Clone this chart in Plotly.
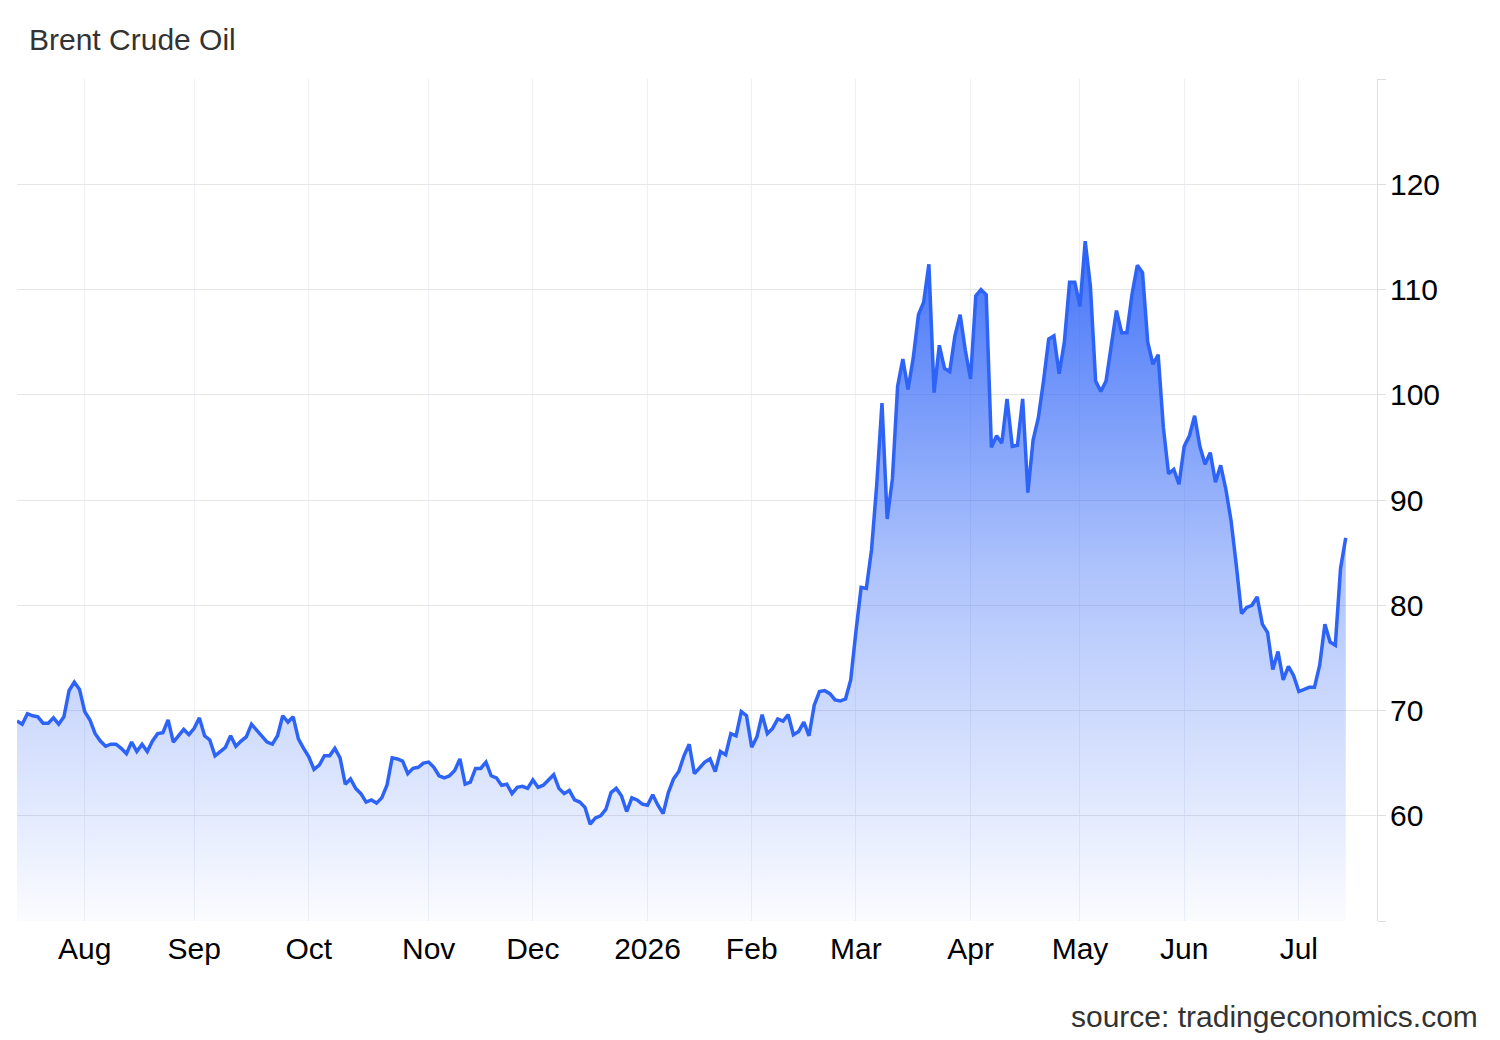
import pandas as pd
import plotly.graph_objects as go

title_text = "Brent Crude Oil"
source_text = "source: tradingeconomics.com"
start_date = "2025-07-15"
holidays = ["2025-12-25", "2026-01-01", "2026-01-19", "2026-04-03", "2026-05-25"]

prices = [
    69.0, 68.7, 69.7, 69.5, 69.4, 68.8, 68.8, 69.3, 68.7, 69.4,
    71.9, 72.7, 72.0, 69.9, 69.1, 67.8, 67.1, 66.6, 66.8, 66.8,
    66.4, 65.9, 67.0, 66.1, 66.8, 66.1, 67.1, 67.8, 67.9, 69.1,
    67.0, 67.6, 68.2, 67.7, 68.3, 69.3, 67.6, 67.2, 65.7, 66.1,
    66.5, 67.6, 66.6, 67.1, 67.5, 68.7,
    68.1, 67.6, 67.0, 66.8, 67.6, 69.5, 68.9, 69.4, 67.3, 66.4,
    65.6, 64.4, 64.8, 65.7, 65.7, 66.4, 65.5, 63.0, 63.5, 62.6,
    62.1, 61.3, 61.5, 61.2, 61.7, 62.9, 65.5, 65.4, 65.2, 64.0,
    64.5, 64.6, 65.0, 65.1, 64.6, 63.8, 63.6, 63.8, 64.3, 65.4,
    63.0, 63.2, 64.5, 64.5,
    65.1, 63.8, 63.6, 62.9, 63.0, 62.1, 62.7, 62.8, 62.6, 63.4,
    62.7, 62.9, 63.4, 63.9, 62.6, 62.1, 62.4, 61.5, 61.3, 60.8,
    59.2, 59.8, 60.0, 60.6, 62.2, 62.6, 61.9, 60.4, 61.7, 61.5,
    61.1, 61.0, 62.0, 61.0, 60.2, 62.2, 63.5, 64.2, 65.7, 66.8,
    64.0, 64.5, 65.1, 65.4,
    64.2, 66.1, 65.8, 67.8, 67.6, 69.9, 69.5, 66.5, 67.5, 69.6,
    67.8, 68.3, 69.2, 69.0, 69.6, 67.7, 68.0, 68.9, 67.6, 70.5,
    71.8, 71.9, 71.6, 71.0, 70.9, 71.1, 72.9, 77.5, 81.7, 81.6,
    85.3, 91.5, 99.2, 88.2, 92.0, 100.8,
    103.4, 100.5, 103.5, 107.6, 108.8, 112.4, 100.2, 104.7, 102.5, 102.2,
    105.6, 107.6, 104.2, 101.5, 109.4, 110.0, 109.5, 95.0, 96.1, 95.4,
    99.6, 95.1, 95.2, 99.6, 90.7, 95.7, 97.8, 101.3, 105.3, 105.6,
    102.0,
    105.0, 110.7, 110.7, 108.4, 114.6, 110.3, 101.3, 100.3, 101.3, 104.6,
    108.0, 105.9, 105.9, 109.6, 112.3, 111.6, 105.0, 102.9, 103.8, 96.9,
    92.5, 92.9, 91.5, 95.1, 96.1, 98.0,
    95.1, 93.4, 94.5, 91.7, 93.3, 91.0, 88.0, 83.8, 79.2, 79.8,
    80.0, 80.8, 78.2, 77.4, 73.9, 75.6, 72.9, 74.2, 73.3, 71.8,
    72.0, 72.2, 72.2, 74.3, 78.2, 76.5, 76.2, 83.5, 86.4,
]

y_ticks = [50, 60, 70, 80, 90, 100, 110, 120, 130]
y_labels = ["", "60", "70", "80", "90", "100", "110", "120", ""]
month_labels = ["Aug", "Sep", "Oct", "Nov", "Dec", "2026", "Feb", "Mar", "Apr", "May", "Jun", "Jul"]

dates = pd.bdate_range(start_date, periods=len(prices), freq="C", holidays=holidays)
month_firsts = [d for i, d in enumerate(dates) if i > 0 and d.month != dates[i - 1].month]

FONT = "Liberation Sans, Arial, sans-serif"
BLUE = "#2d63f7"

fig = go.Figure()
fig.add_trace(go.Scatter(
    x=dates, y=prices, mode="lines",
    line=dict(color=BLUE, width=3.5),
    fill="tozeroy",
    fillgradient=dict(
        type="vertical", start=50, stop=116,
        colorscale=[[0, "rgba(45,99,247,0.02)"], [0.5, "rgba(45,99,247,0.38)"], [1, "rgba(45,99,247,0.92)"]],
    ),
    hoverinfo="x+y", showlegend=False,
))

# page body adds an 8px offset; the figure is sized to fit the window
fig.update_layout(
    width=1492, height=1032,
    margin=dict(l=9, r=123, t=71, b=119),
    paper_bgcolor="white", plot_bgcolor="white",
    font=dict(family=FONT, color="black"),
    xaxis=dict(
        type="date",
        range=[dates[0], "2026-07-22"],
        rangebreaks=[dict(bounds=["sat", "mon"]), dict(values=holidays)],
        tickvals=month_firsts, ticktext=month_labels,
        showgrid=True, gridcolor="#edf1f6", gridwidth=1,
        ticks="", showline=False, zeroline=False,
        tickfont=dict(size=30, color="black", family=FONT),
        ticklabelstandoff=7,
    ),
    yaxis=dict(
        side="right", range=[50, 130],
        tickvals=y_ticks, ticktext=y_labels,
        showgrid=True, gridcolor="#e6e6e6", gridwidth=1,
        showline=True, linecolor="#dedede", linewidth=1,
        ticks="outside", ticklen=8, tickcolor="#dedede",
        zeroline=False,
        tickfont=dict(size=30, color="black", family=FONT),
        ticklabelstandoff=-2,
    ),
    annotations=[
        dict(text=title_text, xref="paper", yref="paper", x=(27 - 17) / 1360, y=1 + 40 / 842,
             xanchor="left", yanchor="middle", showarrow=False,
             font=dict(size=30, color="#333333", family=FONT)),
        dict(text=source_text, xref="paper", yref="paper", x=(1480 - 17) / 1360, y=-(1016 - 921) / 842,
             xanchor="right", yanchor="middle", showarrow=False,
             font=dict(size=30, color="#333333", family=FONT)),
    ],
)

fig.write_html("out.html")
